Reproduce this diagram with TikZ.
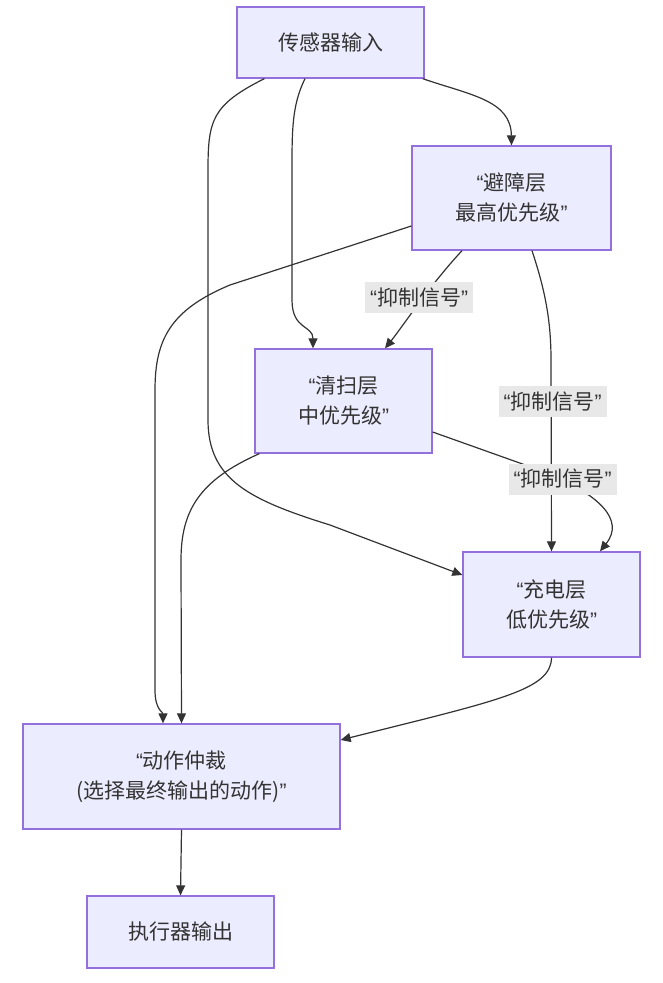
\documentclass[tikz,border=0pt]{standalone}
\usepackage{fontspec}
\setmainfont{Noto Sans CJK SC}
\newfontfamily\quotefont{Liberation Sans}
\newcommand{\openq}{{\quotefont “}}
\newcommand{\closeq}{{\quotefont ”}}
\usetikzlibrary{arrows.meta}

\definecolor{boxfill}{HTML}{ECECFF}
\definecolor{boxline}{HTML}{9370DB}
\definecolor{inkgray}{HTML}{333333}
\definecolor{tagbg}{HTML}{E8E8E8}

\begin{document}
\begin{tikzpicture}[x=1pt, y=-1pt,
    layer/.style={draw=boxline, fill=boxfill, line width=1.3pt, text=inkgray,
        align=center, inner sep=0pt, font=\fontsize{21}{30}\selectfont},
    link/.style={draw=inkgray, line width=1.2pt, -{Triangle[length=10pt, width=9pt]}},
    tag/.style={fill=tagbg, text=inkgray, inner sep=0pt, minimum width=108pt,
        minimum height=31pt, font=\fontsize{21}{24}\selectfont}]
    \useasboundingbox (0, 0) rectangle (662, 983);

    % Draw layers
    \node[layer, minimum width=187pt, minimum height=71pt] (sensor) at (330.5, 42.5) {传感器输入};
    \node[layer, minimum width=199pt, minimum height=104pt] (avoid) at (511.5, 198) {\openq 避障层\\最高优先级\closeq};
    \node[layer, minimum width=177pt, minimum height=104pt] (clean) at (343.5, 401) {\openq 清扫层\\中优先级\closeq};
    \node[layer, minimum width=177pt, minimum height=105pt] (charge) at (551.5, 604.5) {\openq 充电层\\低优先级\closeq};
    \node[layer, minimum width=317pt, minimum height=105pt] (arbiter) at (181.5, 776.5) {\openq 动作仲裁\\(选择最终输出的动作)\closeq};
    \node[layer, minimum width=187pt, minimum height=72pt] (actuator) at (180.5, 932) {执行器输出};

    % Sensor fan-out
    \draw[link] ([xshift=-2pt]sensor.south east) .. controls (470, 95) and (511, 100) .. (avoid.north);
    \draw[link] ([xshift=-25.5pt]sensor.south) .. controls (292, 105) and (292, 130) .. (292, 170)
        -- (292, 300) .. controls (292, 330) and (313, 325) .. ([xshift=-30.5pt]clean.north);
    \draw[link] ([xshift=28pt]sensor.south west) .. controls (212, 105) and (208, 120) .. (208, 170)
        -- (208, 420) .. controls (208, 480) and (250, 500) .. (330, 525) -- ([yshift=29.5pt]charge.west);

    % Avoid layer
    \draw[link] ([yshift=-28pt]avoid.west) -- (230, 285) .. controls (170, 310) and (155, 340) .. (155, 390)
        -- (155, 690) .. controls (155, 710) and (163, 712) .. ([xshift=-18.5pt]arbiter.north);
    \draw[link] ([xshift=-49.5pt]avoid.south) .. controls (430, 285) and (400, 330) .. ([xshift=41.5pt]clean.north);
    \draw[link] ([xshift=20.5pt]avoid.south) .. controls (545, 290) and (551, 320) .. (551, 360) -- (charge.north);

    % Clean layer
    \draw[link] ([yshift=-31pt]clean.east) -- (545, 472) .. controls (600, 495) and (625, 520) .. ([xshift=48.5pt]charge.north);
    \draw[link] ([xshift=5pt]clean.south west) .. controls (200, 480) and (181, 510) .. (181, 560) -- (arbiter.north);

    % Charge layer and output
    \draw[link] (charge.south) .. controls (551, 690) and (500, 700) .. ([yshift=36.5pt]arbiter.east);
    \draw[link] (arbiter.south) -- (actuator.north);

    % Signal tags
    \node[tag] (tagA) at (419, 297.5) {\openq 抑制信号\closeq};
    \node[tag] (tagB) at (552.5, 401.5) {\openq 抑制信号\closeq};
    \node[tag] (tagC) at (562.5, 479) {\openq 抑制信号\closeq};
\end{tikzpicture}
\end{document}
